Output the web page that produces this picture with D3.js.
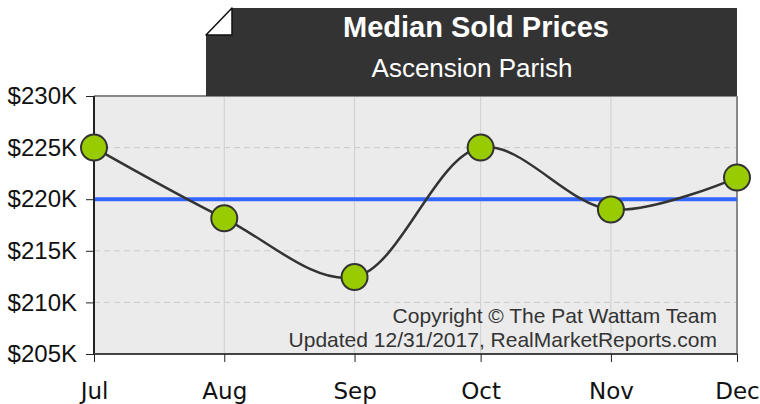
<!DOCTYPE html>
<html>
<head>
<meta charset="utf-8">
<script src="https://cdn.jsdelivr.net/npm/d3@7"></script>
<style>
  body { margin: 0; background: #fff; }
  svg { display: block; }
</style>
</head>
<body>
<svg id="drawing_region"></svg>
<script>
const months = ['2017-07-01', '2017-08-01', '2017-09-01', '2017-10-01', '2017-11-01', '2017-12-01'];
const monthLabels = ['Jul', 'Aug', 'Sep', 'Oct', 'Nov', 'Dec'];
const prices = [225000, 218150, 212450, 225000, 219000, 222100];
const average = 220000;
const yTicks = [205000, 210000, 215000, 220000, 225000, 230000];

const width = 760, height = 404;
const margin = {top: 96, right: 23, bottom: 50, left: 94};
const innerW = width - margin.left - margin.right;
const innerH = height - margin.top - margin.bottom;

const parse = d3.timeParse('%Y-%m-%d');
const data = months.map((m, i) => ({date: parse(m), value: prices[i], label: monthLabels[i]}));

const svg = d3.select('#drawing_region')
    .attr('width', width)
    .attr('height', height);

const xscale = d3.scaleTime()
    .domain(d3.extent(data, d => d.date))
    .range([0, innerW]);
const yscale = d3.scaleLinear()
    .domain([205000, 230000])
    .range([innerH, 0]);

const chart = svg.append('g')
    .attr('transform', `translate(${margin.left}, ${margin.top})`);

// plot background
chart.append('rect')
    .attr('width', innerW)
    .attr('height', innerH)
    .attr('fill', '#ebebeb');

// vertical grid
chart.selectAll('.vgrid')
    .data(data)
    .enter()
    .append('line')
    .attr('x1', d => xscale(d.date))
    .attr('x2', d => xscale(d.date))
    .attr('y1', 0)
    .attr('y2', innerH)
    .attr('stroke', '#cfcfcf')
    .attr('stroke-width', 1);

// horizontal dashed grid
chart.selectAll('.hgrid')
    .data(yTicks.slice(1, -1))
    .enter()
    .append('line')
    .attr('x1', 0)
    .attr('x2', innerW)
    .attr('y1', d => yscale(d))
    .attr('y2', d => yscale(d))
    .attr('stroke', '#cccccc')
    .attr('stroke-dasharray', '6,4');

// frame top/right
chart.append('line')
    .attr('x1', 0).attr('x2', innerW).attr('y1', 0).attr('y2', 0)
    .attr('stroke', '#888').attr('stroke-width', 2);
chart.append('line')
    .attr('x1', innerW).attr('x2', innerW).attr('y1', 0).attr('y2', innerH)
    .attr('stroke', '#888').attr('stroke-width', 2);

// copyright
const copy = chart.append('text')
    .attr('text-anchor', 'end')
    .attr('font-family', 'Liberation Sans, Arial, sans-serif')
    .attr('font-size', '21px')
    .attr('fill', '#333');
copy.append('tspan').attr('x', innerW - 20).attr('y', innerH - 31).text('Copyright © The Pat Wattam Team');
copy.append('tspan').attr('x', innerW - 20).attr('y', innerH - 7).text('Updated 12/31/2017, RealMarketReports.com');

// average line
chart.append('line')
    .attr('x1', 0)
    .attr('x2', innerW)
    .attr('y1', yscale(average))
    .attr('y2', yscale(average))
    .attr('stroke', '#3366ff')
    .attr('stroke-width', 4);

// price curve
const line = d3.line()
    .x(d => xscale(d.date))
    .y(d => yscale(d.value))
    .curve(d3.curveCatmullRom.alpha(0.5));

chart.append('path')
    .datum(data)
    .attr('d', line)
    .attr('fill', 'none')
    .attr('stroke', '#333')
    .attr('stroke-width', 2.5);

// axes
const yaxis = d3.axisLeft(yscale)
    .tickValues(yTicks)
    .tickSize(8)
    .tickPadding(9)
    .tickFormat(d => '$' + (d / 1000) + 'K');
const ya = chart.append('g').call(yaxis);
ya.select('.domain').attr('stroke', '#222').attr('stroke-width', 2).attr('d', `M0,0V${innerH}`);
ya.selectAll('.tick line').attr('stroke', '#222');
ya.selectAll('.tick text')
    .attr('font-family', 'Liberation Sans, Arial, sans-serif')
    .attr('font-size', '24px')
    .attr('fill', '#111');

const xaxis = d3.axisBottom(xscale)
    .tickValues(data.map(d => d.date))
    .tickSize(8)
    .tickPadding(21)
    .tickFormat((d, i) => monthLabels[i]);
const xa = chart.append('g')
    .attr('transform', `translate(0, ${innerH})`)
    .call(xaxis);
xa.select('.domain').attr('stroke', '#444').attr('stroke-width', 2).attr('d', `M0,0H${innerW}`);
xa.selectAll('.tick line').attr('stroke', '#222');
xa.selectAll('.tick text')
    .attr('font-family', 'DejaVu Sans, sans-serif')
    .attr('font-size', '23px')
    .attr('fill', '#111');

// points
chart.selectAll('circle')
    .data(data)
    .enter()
    .append('circle')
    .attr('cx', d => xscale(d.date))
    .attr('cy', d => yscale(d.value))
    .attr('r', 13)
    .attr('fill', '#99cc00')
    .attr('stroke', '#333')
    .attr('stroke-width', 2);

// title box with folded corner
const bx0 = 206, bx1 = 737, by0 = 8, by1 = 96, fold = 26;
svg.append('path')
    .attr('d', `M${bx0 + fold},${by0}H${bx1}V${by1}H${bx0}V${by0 + fold + 1}Z`)
    .attr('fill', '#333');
svg.append('path')
    .attr('d', `M${bx0 + fold},${by0}V${by0 + fold + 1}H${bx0}Z`)
    .attr('fill', '#fff')
    .attr('stroke', '#111')
    .attr('stroke-width', 1.5)
    .attr('stroke-linejoin', 'round');

svg.append('text')
    .attr('x', 476)
    .attr('y', 37)
    .attr('text-anchor', 'middle')
    .attr('font-family', 'Liberation Sans, Arial, sans-serif')
    .attr('font-weight', 'bold')
    .attr('font-size', '29px')
    .attr('fill', '#fff')
    .text('Median Sold Prices');
svg.append('text')
    .attr('x', 472)
    .attr('y', 77)
    .attr('text-anchor', 'middle')
    .attr('font-family', 'Liberation Sans, Arial, sans-serif')
    .attr('font-size', '26px')
    .attr('fill', '#fff')
    .text('Ascension Parish');
</script>
</body>
</html>
